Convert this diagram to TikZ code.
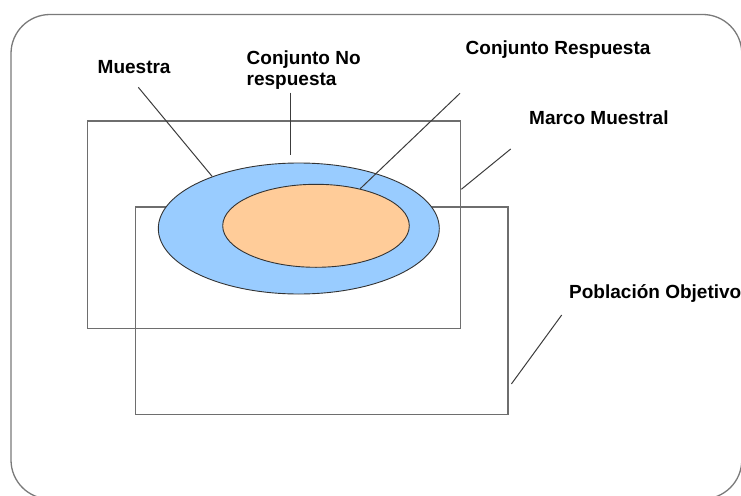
\documentclass[tikz,border=0pt]{standalone}
\usepackage{fontspec}
\setmainfont{Liberation Sans}
\usetikzlibrary{shapes.geometric}
\definecolor{setblue}{HTML}{99CCFF}
\definecolor{setorange}{HTML}{FFCC99}
\definecolor{framegray}{HTML}{7A7A7A}
\definecolor{boxgray}{HTML}{6E6E6E}
\definecolor{leadgray}{HTML}{3C3C3C}
\tikzset{
  lbl/.style={font=\fontsize{19}{19}\selectfont\bfseries, inner sep=0pt, anchor=base west, text=black},
  setbox/.style={draw=boxgray, line width=1.4pt, inner sep=0pt},
  setell/.style={ellipse, draw=black!80, line width=0.9pt, inner sep=0pt},
  leader/.style={draw=leadgray, line width=1pt}
}
\begin{document}
\begin{tikzpicture}[x=1pt,y=-1pt]
\useasboundingbox (0,0) rectangle (741,495);
% outer frame
\draw[framegray, line width=1.3pt, rounded corners=39pt] (11,14.5) rectangle (741.8,499);
% frames
\node[setbox, minimum width=373.4pt, minimum height=207.5pt] (marco) at (274,224.75) {};
\node[setbox, minimum width=372.8pt, minimum height=207.7pt] (pob) at (321.6,310.85) {};
% ellipses
\node[setell, fill=setblue, minimum width=281pt, minimum height=131pt] (muestra) at (298.8,228.5) {};
\node[setell, fill=setorange, minimum width=186.6pt, minimum height=83pt] (resp) at (316,225.8) {};
% labels
\node[lbl] (tmu) at (97.5,74) {Muestra};
\node[lbl, anchor=north west, align=left, text depth=0pt] (tno) at (246.5,50.2) {Conjunto No\\[2.5pt]respuesta};
\node[lbl] (tre) at (465.5,55) {Conjunto Respuesta};
\node[lbl] (tma) at (529,124.3) {Marco Muestral};
\node[lbl] (tpo) at (569,298.3) {Población Objetivo};
% leader coordinates
\coordinate (lmu) at (138.3,87.3);
\coordinate (lno1) at (290,92.7);
\coordinate (lno2) at (290,155);
\coordinate (lre) at (460,93.3);
\coordinate (lma) at (510.7,149);
\coordinate (lpo) at (561.7,315);
% leaders
\draw[leader] (lmu) -- (muestra.149);
\draw[leader] (lno1) -- (lno2);
\draw[leader] (lre) -- (resp.40);
\draw[leader] (lma) -- ([yshift=35.5pt]marco.east);
\draw[leader] (lpo) -- ([xshift=2.7pt,yshift=-73.1pt]pob.east);
\end{tikzpicture}
\end{document}
